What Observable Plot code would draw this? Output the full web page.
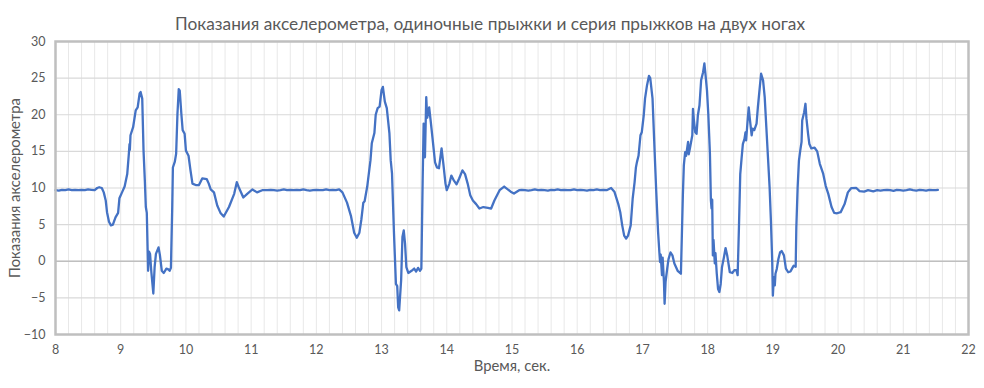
<!DOCTYPE html>
<html>
<head>
<meta charset="utf-8">
<script src="https://cdn.jsdelivr.net/npm/d3@7"></script>
<script src="https://cdn.jsdelivr.net/npm/@observablehq/plot@0.6"></script>
<style>
  html, body { margin: 0; padding: 0; background: #fff; }
  #chart svg { display: block; }
</style>
</head>
<body>
<div id="chart"></div>
<script>
const chartTitle = "Показания акселерометра, одиночные прыжки и серия прыжков на двух ногах";
const xTitle = "Время, сек.";
const yTitle = "Показания акселерометра";
const xTicks = [8, 9, 10, 11, 12, 13, 14, 15, 16, 17, 18, 19, 20, 21, 22];
const yTicks = [-10, -5, 0, 5, 10, 15, 20, 25, 30];
const xMinorTicks = d3.range(40, 111).map(d => d / 5);

// [time, sec; accelerometer reading]
const restStart = [
  [8.00, 9.7], [8.05, 9.65], [8.10, 9.75], [8.15, 9.7], [8.20, 9.8], [8.25, 9.7], [8.30, 9.75],
  [8.35, 9.7], [8.40, 9.75], [8.45, 9.7], [8.50, 9.8], [8.55, 9.75], [8.60, 9.7]
];
const jump1 = [
  [8.64, 10.0], [8.67, 10.1], [8.71, 10.0], [8.74, 9.4], [8.77, 8.3], [8.79, 6.7], [8.82, 5.4],
  [8.85, 4.9], [8.88, 5.0], [8.92, 6.0], [8.96, 6.6], [8.98, 8.6], [9.02, 9.4], [9.06, 10.2],
  [9.10, 11.9], [9.125, 14.7], [9.135, 16.0], [9.14, 15.2], [9.15, 17.2], [9.19, 18.3],
  [9.23, 20.6], [9.26, 21.0], [9.29, 22.9], [9.305, 23.1], [9.33, 22.2], [9.35, 15.1],
  [9.37, 11.0], [9.385, 7.4], [9.40, 6.6], [9.42, -1.3], [9.435, 1.3], [9.45, 1.0],
  [9.47, -1.5], [9.50, -4.4], [9.52, -0.8], [9.54, 1.0], [9.58, 1.9], [9.60, 0.9],
  [9.63, -1.3], [9.66, -1.6], [9.70, -1.0], [9.73, -1.1], [9.75, -1.3], [9.77, -0.9],
  [9.79, 7.4], [9.80, 12.8], [9.83, 13.6], [9.85, 14.7], [9.87, 20.1], [9.89, 23.5],
  [9.905, 23.3], [9.93, 20.1], [9.95, 17.9], [9.98, 17.4], [10.00, 15.1], [10.04, 14.4],
  [10.07, 12.4], [10.10, 10.6], [10.15, 10.4], [10.20, 10.4], [10.25, 11.3], [10.32, 11.2],
  [10.35, 10.6], [10.38, 9.8], [10.43, 9.4], [10.48, 7.6], [10.53, 6.6], [10.58, 6.1],
  [10.66, 7.4], [10.74, 9.2], [10.78, 10.8], [10.81, 10.1], [10.88, 8.7], [10.94, 9.2],
  [11.02, 9.8], [11.09, 9.4], [11.17, 9.7]
];
const restMiddle1 = [
  [11.25, 9.7], [11.30, 9.75], [11.35, 9.7], [11.40, 9.65], [11.45, 9.7], [11.50, 9.8],
  [11.55, 9.7], [11.60, 9.75], [11.65, 9.7], [11.70, 9.75], [11.75, 9.7], [11.80, 9.8],
  [11.85, 9.7], [11.90, 9.65], [11.95, 9.7], [12.00, 9.75], [12.05, 9.7], [12.10, 9.7],
  [12.15, 9.8], [12.20, 9.7], [12.25, 9.75], [12.30, 9.7], [12.35, 9.8]
];
const jump2 = [
  [12.40, 9.4], [12.47, 8.0], [12.53, 6.2], [12.58, 3.9], [12.62, 3.2], [12.66, 3.9],
  [12.69, 5.7], [12.72, 8.0], [12.74, 8.2], [12.78, 10.2], [12.83, 13.8], [12.85, 16.1],
  [12.89, 17.5], [12.91, 20.0], [12.94, 20.9], [12.97, 21.1], [13.00, 23.4], [13.02, 23.8],
  [13.05, 21.8], [13.08, 20.9], [13.12, 17.5], [13.14, 13.8], [13.16, 12.0], [13.19, 3.9],
  [13.22, -3.1], [13.24, -3.4], [13.255, -6.3], [13.27, -6.7], [13.30, -2.6], [13.32, 3.3],
  [13.34, 4.2], [13.36, 2.4], [13.38, -0.8], [13.41, -1.6], [13.46, -1.3], [13.50, -1.0],
  [13.53, -1.4], [13.56, -0.9], [13.59, -1.3], [13.61, -1.0], [13.63, 11.0], [13.645, 18.8],
  [13.665, 14.2], [13.685, 22.4], [13.70, 19.6], [13.73, 21.0], [13.75, 19.4], [13.78, 16.9],
  [13.82, 13.5], [13.85, 12.8], [13.88, 12.7], [13.92, 15.4], [13.95, 13.1], [13.98, 10.6],
  [14.00, 9.7], [14.04, 10.6], [14.07, 11.7], [14.11, 11.0], [14.15, 10.5], [14.19, 11.3],
  [14.24, 12.4], [14.28, 11.9], [14.32, 10.6], [14.36, 9.0], [14.40, 8.3], [14.45, 7.8],
  [14.50, 7.2], [14.56, 7.4], [14.63, 7.3], [14.68, 7.2], [14.73, 8.3], [14.81, 9.7],
  [14.88, 10.2], [14.98, 9.5], [15.03, 9.25], [15.11, 9.7]
];
const restMiddle2 = [
  [15.15, 9.75], [15.20, 9.7], [15.25, 9.65], [15.30, 9.7], [15.35, 9.8], [15.40, 9.7],
  [15.45, 9.75], [15.50, 9.7], [15.55, 9.65], [15.60, 9.75], [15.65, 9.7], [15.70, 9.8],
  [15.75, 9.7], [15.80, 9.75], [15.85, 9.7], [15.90, 9.7], [15.95, 9.8], [16.00, 9.7],
  [16.05, 9.75], [16.10, 9.7], [16.15, 9.65], [16.20, 9.75], [16.25, 9.7], [16.30, 9.8],
  [16.35, 9.7], [16.40, 9.75], [16.45, 9.7]
];
const jumpSeries = [
  [16.52, 10.0], [16.57, 9.5], [16.63, 7.8], [16.66, 6.7], [16.69, 4.9], [16.72, 3.5],
  [16.75, 3.1], [16.78, 3.5], [16.82, 4.9], [16.85, 8.5], [16.88, 10.8], [16.90, 12.8],
  [16.915, 13.5], [16.94, 14.4], [16.97, 17.2], [16.99, 17.6], [17.02, 19.9], [17.04, 22.2],
  [17.07, 24.0], [17.10, 25.3], [17.12, 25.0], [17.155, 22.2], [17.185, 15.4], [17.21, 9.9],
  [17.24, 4.0], [17.26, 1.2], [17.27, -0.1], [17.28, 0.9], [17.30, -1.9], [17.31, 0.5],
  [17.33, -2.8], [17.34, -5.8], [17.355, -2.8], [17.38, -1.0], [17.40, 0.3], [17.43, 1.2],
  [17.46, 0.8], [17.49, -0.3], [17.54, -1.3], [17.59, -1.7], [17.62, 9.0], [17.635, 13.1],
  [17.655, 14.9], [17.67, 14.4], [17.70, 16.3], [17.71, 14.6], [17.73, 15.5], [17.765, 17.2],
  [17.775, 20.8], [17.79, 19.2], [17.81, 17.6], [17.83, 17.4], [17.85, 19.9], [17.875, 21.3],
  [17.90, 24.7], [17.93, 25.8], [17.95, 27.0], [17.965, 25.7], [17.99, 23.3], [18.01, 20.1],
  [18.035, 14.7], [18.05, 8.3], [18.06, 7.2], [18.07, 8.4], [18.08, 0.8], [18.09, 2.9],
  [18.11, -0.3], [18.12, 1.1], [18.14, -1.7], [18.16, -3.8], [18.18, -4.2], [18.20, -3.1],
  [18.22, -0.8], [18.25, 0.55], [18.275, 1.8], [18.30, 0.8], [18.34, -1.5], [18.38, -1.6],
  [18.41, -1.2], [18.44, -1.2], [18.46, -1.9], [18.48, 4.65], [18.50, 11.9], [18.52, 14.0],
  [18.54, 16.0], [18.565, 16.7], [18.58, 17.6], [18.59, 16.5], [18.615, 19.45], [18.63, 21.0],
  [18.645, 19.6], [18.675, 17.2], [18.69, 18.1], [18.715, 17.9], [18.75, 18.8], [18.77, 21.0],
  [18.80, 23.8], [18.82, 25.6], [18.85, 24.7], [18.875, 22.4], [18.90, 18.3], [18.925, 14.2],
  [18.95, 10.1], [18.97, 5.6], [18.99, 0.1], [19.00, -4.7], [19.015, -2.2], [19.03, -3.3],
  [19.04, -1.7], [19.06, -1.05], [19.085, 0.3], [19.11, 1.2], [19.135, 1.4], [19.17, 0.8],
  [19.20, -1.0], [19.235, -1.5], [19.27, -1.4], [19.30, -0.9], [19.32, -0.6], [19.35, -0.75],
  [19.36, 4.6], [19.38, 10.1], [19.40, 13.75], [19.42, 15.1], [19.44, 16.3], [19.45, 19.2],
  [19.48, 20.35], [19.50, 21.5], [19.515, 19.5], [19.54, 17.4], [19.56, 16.0], [19.59, 15.4],
  [19.64, 15.5], [19.68, 15.0], [19.72, 13.3], [19.77, 12.0], [19.81, 10.3], [19.85, 9.2],
  [19.90, 7.4], [19.94, 6.6], [19.985, 6.55], [20.04, 6.7], [20.10, 7.8], [20.15, 9.4],
  [20.20, 9.97], [20.28, 10.0], [20.33, 9.57], [20.40, 9.5], [20.46, 9.7], [20.54, 9.55]
];
const restEnd = [
  [20.60, 9.7], [20.65, 9.65], [20.70, 9.7], [20.75, 9.75], [20.80, 9.7], [20.85, 9.6],
  [20.90, 9.75], [20.95, 9.7], [21.00, 9.65], [21.05, 9.7], [21.10, 9.8], [21.15, 9.7],
  [21.20, 9.65], [21.25, 9.75], [21.30, 9.7], [21.35, 9.65], [21.40, 9.75], [21.45, 9.7],
  [21.50, 9.7], [21.53, 9.75]
];

const readings = [restStart, jump1, restMiddle1, jump2, restMiddle2, jumpSeries, restEnd]
  .flat()
  .map(([t, v]) => ({t, v}));

const font = "Lato, 'Open Sans', sans-serif";

const chart = Plot.plot({
  width: 984,
  height: 388,
  marginLeft: 55,
  marginRight: 16,
  marginTop: 41,
  marginBottom: 54,
  style: {fontFamily: font, color: "#595959", background: "#ffffff", overflow: "visible"},
  x: {domain: [8, 22], label: null},
  y: {domain: [-10, 30], label: null},
  marks: [
    Plot.gridX(xMinorTicks, {stroke: "#e8e8e8", strokeOpacity: 1, strokeWidth: 1}),
    Plot.gridY(yTicks, {stroke: "#d9d9d9", strokeOpacity: 1, strokeWidth: 1.2}),
    Plot.ruleY([0], {stroke: "#bfbfbf", strokeWidth: 1.5}),
    Plot.axisY(yTicks, {tickSize: 0, tickPadding: 10, fontSize: 12.5, fill: "#595959", label: null}),
    Plot.axisX(xTicks, {tickSize: 0, tickPadding: 11, fontSize: 12.5, fill: "#595959", label: null}),
    Plot.line(readings, {x: "t", y: "v", stroke: "#4472C4", strokeWidth: 2.3, strokeLinejoin: "round"}),
    Plot.frame({stroke: "#bfbfbf", strokeWidth: 2.5}),
    Plot.text([chartTitle], {frameAnchor: "top", dx: -22, dy: -24, fontSize: 17.3, fill: "#595959"}),
    Plot.text([xTitle], {frameAnchor: "bottom", dy: 36, fontSize: 14.8, fill: "#595959"}),
    Plot.text([yTitle], {frameAnchor: "left", textAnchor: "middle", dx: -40, rotate: -90, fontSize: 14.8, fill: "#595959"})
  ]
});
document.getElementById("chart").appendChild(chart);
</script>
</body>
</html>
